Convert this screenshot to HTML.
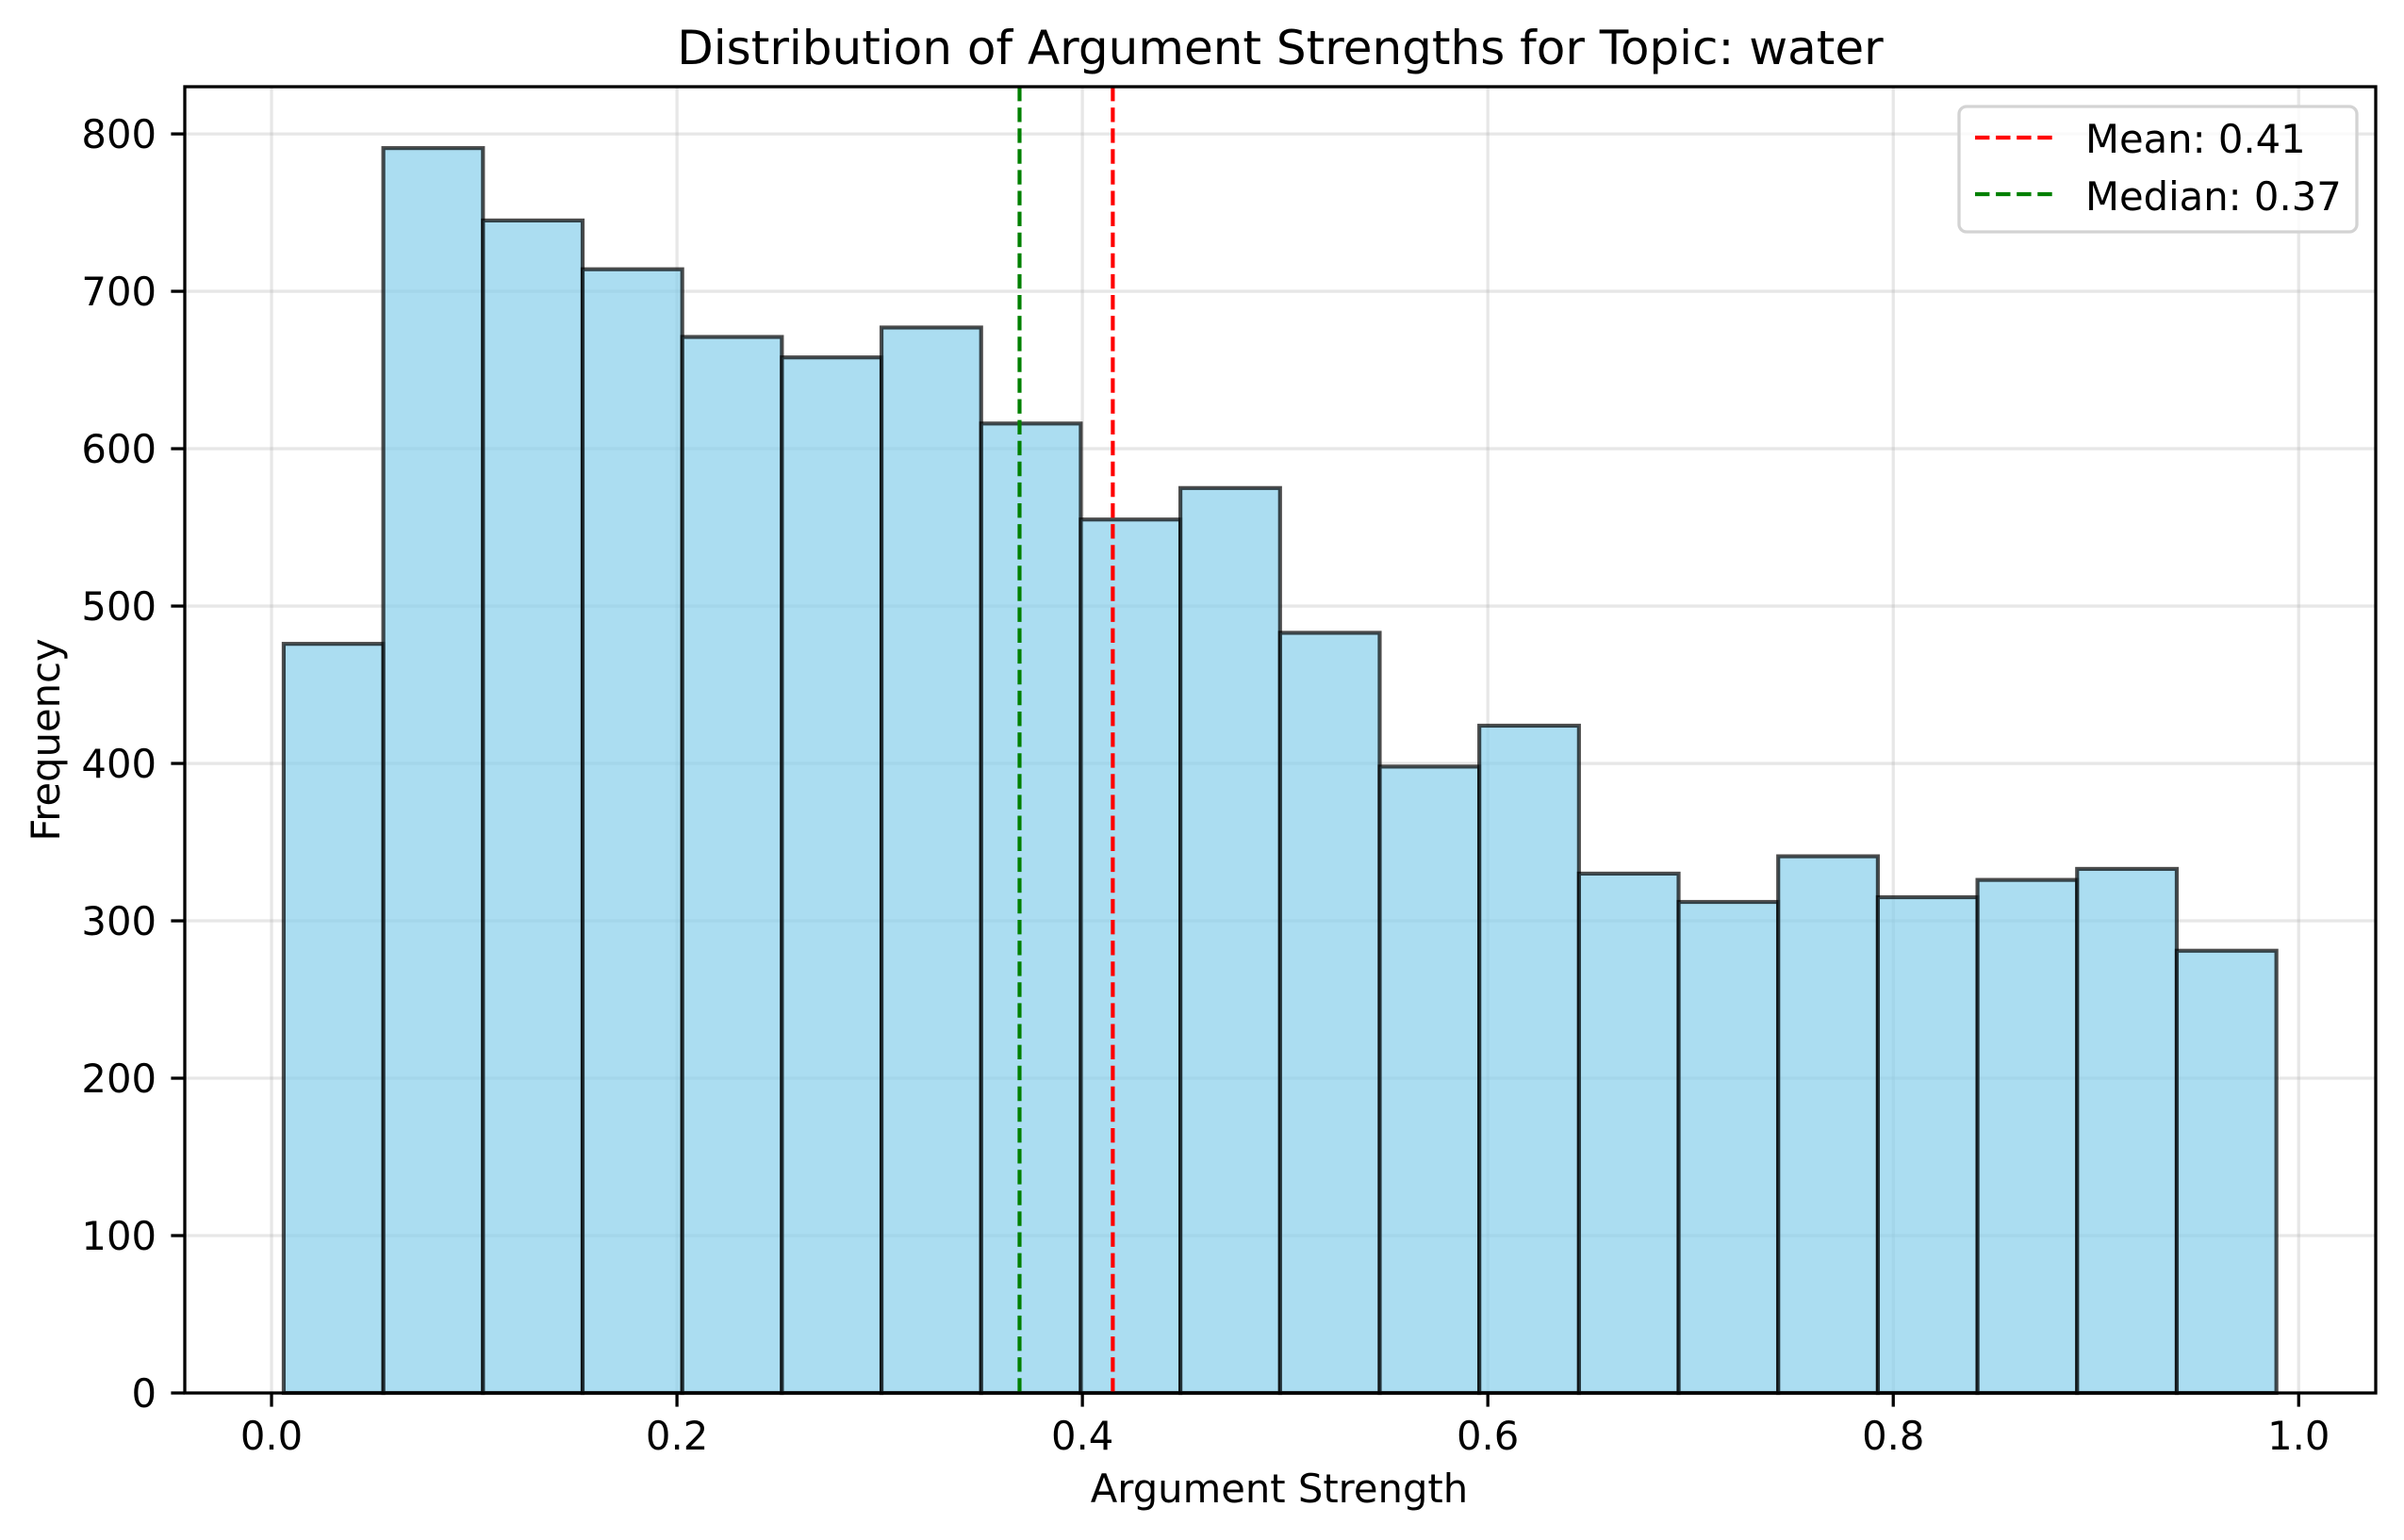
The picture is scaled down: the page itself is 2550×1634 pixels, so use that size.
<!DOCTYPE html>
<html><head><meta charset="utf-8"><style>
html,body{margin:0;padding:0;background:#fff;}
svg{display:block;font-family:"DejaVu Sans","Liberation Sans",sans-serif;}
</style></head>
<body>
<svg id="chart" width="2550" height="1634" viewBox="0 0 2550 1634" xmlns="http://www.w3.org/2000/svg">
<rect width="2550" height="1634" fill="#fff"/>
<g id="grid"></g>
<g id="bars"></g>
<g id="refs"></g>
<g id="axes"></g>
<text x="1358" y="68" font-size="50" text-anchor="middle">Distribution of Argument Strengths for Topic: water</text>
<text x="1357" y="1594" font-size="41.7" text-anchor="middle">Argument Strength</text>
<text transform="translate(63,785) rotate(-90)" font-size="41.7" text-anchor="middle">Frequency</text>
<g>
<rect x="2078" y="113" width="422" height="133" rx="8" fill="#fff" fill-opacity="0.8" stroke="#d3d3d3" stroke-width="3.3"/>
<line x1="2095" y1="146" x2="2178" y2="146" stroke="#ff0000" stroke-width="4.17" stroke-dasharray="15.4,6.7"/>
<text x="2212" y="162" font-size="41.7">Mean: 0.41</text>
<line x1="2095" y1="206" x2="2178" y2="206" stroke="#008000" stroke-width="4.17" stroke-dasharray="15.4,6.7"/>
<text x="2212" y="223" font-size="41.7">Median: 0.37</text>
</g>
</svg>
<script>
const binStart = 0.006;
const binEnd = 0.989;
const counts = [476, 791, 745, 714, 671, 658, 677, 616, 555, 575, 483, 398, 424, 330, 312, 341, 315, 326, 333, 281];
const xTicks = [0.0, 0.2, 0.4, 0.6, 0.8, 1.0];
const xTickLabels = ["0.0", "0.2", "0.4", "0.6", "0.8", "1.0"];
const yTicks = [0, 100, 200, 300, 400, 500, 600, 700, 800];
const meanValue = [0.415];
const medianValue = [0.369];

const NS = "http://www.w3.org/2000/svg";
const L = 196, R = 2520, T = 92, B = 1478;
const xMin = -0.0428, xMax = 1.038, yMax = 830;
const xs = v => L + (v - xMin) / (xMax - xMin) * (R - L);
const ys = v => B - v / yMax * (B - T);
function mk(tag, attrs, parent) {
  const e = document.createElementNS(NS, tag);
  for (const k in attrs) e.setAttribute(k, attrs[k]);
  parent.appendChild(e);
  return e;
}
const grid = document.getElementById('grid');
const bars = document.getElementById('bars');
const refs = document.getElementById('refs');
const axes = document.getElementById('axes');

xTicks.forEach((t, i) => {
  const g = mk('line', {x1: xs(t), x2: xs(t), y1: T, y2: B, stroke: '#b0b0b0', 'stroke-opacity': 0.3, 'stroke-width': 3.3}, grid);
  
  
  const tk = mk('line', {x1: xs(t), x2: xs(t), y1: B, y2: B + 14.6, stroke: '#000', 'stroke-width': 3.3}, axes);
  
  
  const lb = mk('text', {x: xs(t), y: 1538, 'font-size': 41.7, 'text-anchor': 'middle'}, axes);
  lb.textContent = xTickLabels[i];
  
  
});
yTicks.forEach(t => {
  const g = mk('line', {x1: L, x2: R, y1: ys(t), y2: ys(t), stroke: '#b0b0b0', 'stroke-opacity': 0.3, 'stroke-width': 3.3}, grid);
  
  
  const tk = mk('line', {x1: L - 14.6, x2: L, y1: ys(t), y2: ys(t), stroke: '#000', 'stroke-width': 3.3}, axes);
  
  
  const lb = mk('text', {x: 166, y: ys(t) + 15, 'font-size': 41.7, 'text-anchor': 'end'}, axes);
  lb.textContent = String(t);
  
  
});
const w = (binEnd - binStart) / counts.length;
counts.forEach((c, i) => {
  const x0 = xs(binStart + i * w), x1 = xs(binStart + (i + 1) * w);
  const r = mk('rect', {x: x0, y: ys(c), width: x1 - x0, height: ys(0) - ys(c), fill: '#87ceeb', 'fill-opacity': 0.7, stroke: '#000', 'stroke-opacity': 0.7, 'stroke-width': 4.17}, bars);
  
  
});
const ml = mk('line', {x1: xs(meanValue[0]), x2: xs(meanValue[0]), y1: T, y2: B, stroke: '#ff0000', 'stroke-width': 4.17, 'stroke-dasharray': '15.4,6.7'}, refs);


const dl = mk('line', {x1: xs(medianValue[0]), x2: xs(medianValue[0]), y1: T, y2: B, stroke: '#008000', 'stroke-width': 4.17, 'stroke-dasharray': '15.4,6.7'}, refs);


const fr = mk('rect', {x: L, y: T, width: R - L, height: B - T, fill: 'none', stroke: '#000', 'stroke-width': 3.3}, axes);


</script>
</body></html>
